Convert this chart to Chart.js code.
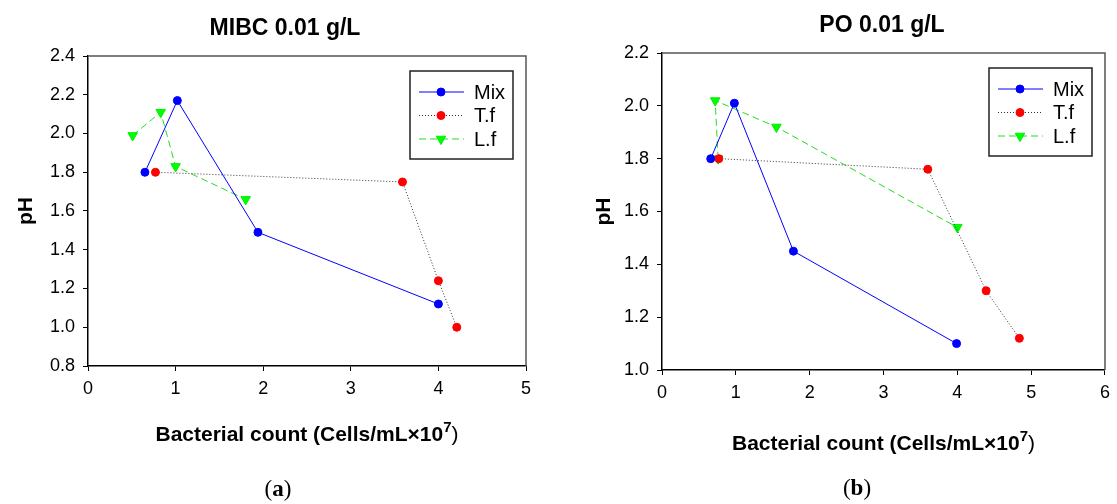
<!DOCTYPE html>
<html>
<head>
<meta charset="utf-8">
<script src="https://cdn.jsdelivr.net/npm/chart.js@4.4.1/dist/chart.umd.min.js"></script>
<style>
  body { margin: 0; background: #fff; }
  #page { position: relative; width: 1117px; height: 504px; overflow: hidden; font-family: "Liberation Sans", Arial, sans-serif; }
  canvas { position: absolute; top: 0; }
  .head { position: absolute; font-weight: bold; font-size: 23px; color: #000; transform: translate(-50%, -50%); white-space: nowrap; }
  .cap { position: absolute; font-family: "Liberation Serif", "DejaVu Serif", serif; font-size: 23px; transform: translate(-50%, -50%); }
</style>
</head>
<body>
<div id="page">
  <canvas id="chartA" width="560" height="504" style="left:0"></canvas>
  <canvas id="chartB" width="557" height="504" style="left:560px"></canvas>
  <div class="head" style="left:285px; top:27px">MIBC 0.01 g/L</div>
  <div class="head" style="left:882px; top:24px">PO 0.01 g/L</div>
  <div class="cap" style="left:278px; top:489px">(<b>a</b>)</div>
  <div class="cap" style="left:857px; top:488px">(<b>b</b>)</div>
</div>
<script>
// series names
const seriesNames = ['Mix', 'T.f', 'L.f']

// (a) MIBC 0.01 g/L
const mibcMixX = [0.65, 1.02, 1.94, 4.00]
const mibcMixPH = [1.80, 2.17, 1.49, 1.12]
const mibcTfX = [0.77, 3.59, 4.00, 4.21]
const mibcTfPH = [1.80, 1.75, 1.24, 1.00]
const mibcLfX = [0.51, 0.83, 1.00, 1.80]
const mibcLfPH = [1.99, 2.11, 1.83, 1.66]

// (b) PO 0.01 g/L
const poMixX = [0.66, 0.98, 1.78, 3.99]
const poMixPH = [1.80, 2.01, 1.45, 1.10]
const poTfX = [0.77, 3.60, 4.39, 4.84]
const poTfPH = [1.80, 1.76, 1.30, 1.12]
const poLfX = [0.76, 0.72, 1.55, 4.00]
const poLfPH = [1.80, 2.02, 1.92, 1.54]

// x title is drawn in pieces so the exponent can be raised
const xTitleMain = 'Bacterial count (Cells/mL\u00d710'
const xTitleExp = '7'
const xTitleEnd = ')'
const yTitle = 'pH'

const pairs = (xs, ys) => xs.map((x, i) => ({x: x, y: ys[i]}))

function makeDatasets(mixX, mixY, tfX, tfY, lfX, lfY)
{
    return [
        {
            label: seriesNames[0],
            data: pairs(mixX, mixY),
            borderColor: '#0000ff',
            borderWidth: 1,
            pointStyle: 'circle',
            pointRadius: 4,
            pointBackgroundColor: '#0000ff',
            pointBorderColor: '#0000ff'
        },
        {
            label: seriesNames[1],
            data: pairs(tfX, tfY),
            borderColor: '#333333',
            borderWidth: 1,
            borderDash: [1, 2],
            pointStyle: 'circle',
            pointRadius: 4,
            pointBackgroundColor: '#ff0000',
            pointBorderColor: '#ff0000'
        },
        {
            label: seriesNames[2],
            data: pairs(lfX, lfY),
            borderColor: '#22dd22',
            borderWidth: 1,
            borderDash: [7, 4],
            pointStyle: 'triangle',
            pointRotation: 180,
            pointRadius: 5.5,
            pointBackgroundColor: '#00ff00',
            pointBorderColor: '#00ee00'
        }
    ]
}

// grey top/right frame, boxed legend, x axis title with exponent
const boxLegend = {
    id: 'boxLegend',
    beforeDatasetsDraw(chart) {
        const {ctx, chartArea} = chart
        ctx.save()
        ctx.strokeStyle = '#555'
        ctx.lineWidth = 1.5
        ctx.beginPath()
        ctx.moveTo(chartArea.left, chartArea.top)
        ctx.lineTo(chartArea.right, chartArea.top)
        ctx.lineTo(chartArea.right, chartArea.bottom)
        ctx.stroke()
        ctx.restore()
    },
    afterDraw(chart, args, opts) {
        const {ctx, chartArea} = chart
        const w = 103, h = 88
        const x = Math.round(chartArea.right - 13 - w), y = Math.round(chartArea.top + 15)
        ctx.save()
        ctx.fillStyle = '#fff'
        ctx.fillRect(x, y, w, h)
        ctx.strokeStyle = '#222'
        ctx.lineWidth = 1.5
        ctx.strokeRect(x, y, w, h)
        chart.data.datasets.forEach((ds, i) => {
            const ry = y + 21 + i * 23.5
            ctx.strokeStyle = ds.borderColor
            ctx.lineWidth = ds.borderWidth
            ctx.setLineDash(ds.borderDash || [])
            ctx.beginPath()
            ctx.moveTo(x + 9, ry)
            ctx.lineTo(x + 54, ry)
            ctx.stroke()
            ctx.setLineDash([])
            ctx.fillStyle = ds.pointBackgroundColor
            ctx.strokeStyle = ds.pointBorderColor
            Chart.helpers.drawPoint(ctx, {
                pointStyle: ds.pointStyle,
                rotation: ds.pointRotation || 0,
                radius: ds.pointRadius,
                borderWidth: 1
            }, x + 31, ry)
            ctx.fillStyle = '#000'
            ctx.font = '20px "Liberation Sans", Arial, sans-serif'
            ctx.textBaseline = 'middle'
            ctx.fillText(ds.label, x + 64, ry + 1)
        })

        // x axis title
        const fMain = 'bold 21px "Liberation Sans", Arial, sans-serif'
        const fExp = 'bold 15px "Liberation Sans", Arial, sans-serif'
        const fEnd = '21px "Liberation Sans", Arial, sans-serif'
        ctx.font = fMain
        const w1 = ctx.measureText(xTitleMain).width
        ctx.font = fExp
        const w2 = ctx.measureText(xTitleExp).width
        ctx.font = fEnd
        const w3 = ctx.measureText(xTitleEnd).width
        let tx = (chartArea.left + chartArea.right) / 2 - (w1 + w2 + w3) / 2
        const ty = opts.titleY
        ctx.fillStyle = '#000'
        ctx.textAlign = 'left'
        ctx.textBaseline = 'middle'
        ctx.font = fMain
        ctx.fillText(xTitleMain, tx, ty)
        tx += w1
        ctx.font = fExp
        ctx.fillText(xTitleExp, tx, ty - 7)
        tx += w2
        ctx.font = fEnd
        ctx.fillText(xTitleEnd, tx, ty)
        ctx.restore()
    }
}

function drawChart(id, datasets, opt)
{
    const ctx = document.getElementById(id).getContext('2d')
    return new Chart(ctx, {
        type: 'scatter',
        data: {datasets: datasets.map(d => Object.assign({showLine: true}, d))},
        options: {
            responsive: false,
            animation: false,
            devicePixelRatio: 1,
            layout: {padding: opt.padding},
            plugins: {legend: {display: false}, tooltip: {enabled: false}, boxLegend: {titleY: opt.xTitleY}},
            scales: {
                x: {
                    type: 'linear',
                    min: 0,
                    max: opt.xMax,
                    afterFit: s => { s.height = opt.xHeight },
                    ticks: {stepSize: 1, padding: 7, color: '#000', font: {size: 18, family: '"Liberation Sans", Arial'}},
                    grid: {drawOnChartArea: false, tickLength: 5, color: '#000'},
                    border: {color: '#000', width: 1.5}
                },
                y: {
                    min: opt.yMin,
                    max: opt.yMax,
                    afterFit: s => { s.width = opt.yWidth },
                    ticks: {stepSize: 0.2, padding: 8, color: '#000', font: {size: 18, family: '"Liberation Sans", Arial'},
                        callback: v => v.toFixed(1)},
                    grid: {drawOnChartArea: false, tickLength: 5, color: '#000'},
                    border: {color: '#000', width: 1.5},
                    title: {display: true, text: yTitle, color: '#000', padding: {top: opt.yTitlePad, bottom: 0},
                        font: {size: 21, weight: 'bold', family: '"Liberation Sans", Arial'}}
                }
            }
        },
        plugins: [boxLegend]
    })
}

drawChart('chartA', makeDatasets(mibcMixX, mibcMixPH, mibcTfX, mibcTfPH, mibcLfX, mibcLfPH), {
    padding: {left: 0, right: 34, top: 56, bottom: 56},
    xMax: 5, yMin: 0.8, yMax: 2.4,
    xHeight: 82, yWidth: 88, yTitlePad: 14, xTitleY: 435
})

drawChart('chartB', makeDatasets(poMixX, poMixPH, poTfX, poTfPH, poLfX, poLfPH), {
    padding: {left: 0, right: 9, top: 53, bottom: 46},
    xMax: 6, yMin: 1.0, yMax: 2.2,
    xHeight: 88, yWidth: 102, yTitlePad: 32, xTitleY: 444
})
</script>
</body>
</html>
